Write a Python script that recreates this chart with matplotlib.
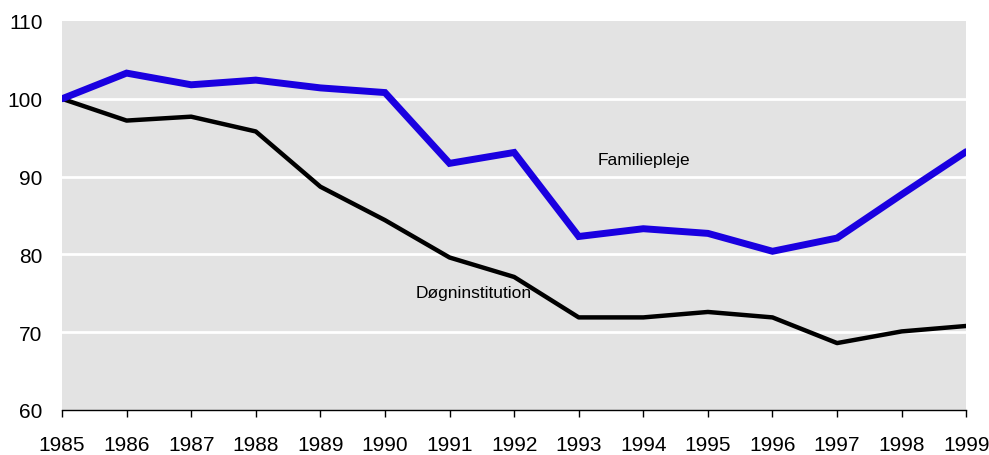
import matplotlib
matplotlib.use("Agg")
import matplotlib.pyplot as plt

years = list(range(1985, 2000))
familiepleje = [100, 103.3, 101.8, 102.4, 101.4, 100.8, 91.7, 93.1, 82.3, 83.3, 82.7, 80.4, 82.1, 87.7, 93.2]
dogninstitution = [100, 97.2, 97.7, 95.8, 88.7, 84.4, 79.6, 77.1, 71.9, 71.9, 72.6, 71.9, 68.6, 70.1, 70.8]
yticks = [60, 70, 80, 90, 100, 110]

plt.rcParams['font.family'] = ['Liberation Sans', 'DejaVu Sans']

fig = plt.figure(figsize=(9.89, 4.56), dpi=100)
ax = fig.add_axes([0.0627, 0.0987, 0.9143, 0.8531])
ax.set_facecolor('#e3e3e3')

for y in yticks[1:-1]:
    ax.axhline(y, color='white', lw=2, zorder=1)

ax.plot(years, familiepleje, color='#1a00e0', lw=5, solid_joinstyle='miter', solid_capstyle='round', zorder=3)
ax.plot(years, dogninstitution, color='black', lw=3.2, solid_capstyle='round', zorder=2)

ax.text(1993.3, 92.2, 'Familiepleje', fontsize=12.5, va='center', ha='left')
ax.text(1990.47, 75.1, 'Døgninstitution', fontsize=12.5, va='center', ha='left')

ax.set_xlim(1985, 1999)
ax.set_ylim(60, 110)
ax.set_xticks(years)
ax.set_yticks(yticks)
ax.tick_params(axis='x', length=5, width=1, labelsize=15, pad=13, direction='out')
ax.tick_params(axis='y', length=0, labelsize=15, pad=14)
for s in ['top', 'right', 'left']:
    ax.spines[s].set_visible(False)
ax.spines['bottom'].set_linewidth(1)

fig.savefig('out.png', dpi=100)
